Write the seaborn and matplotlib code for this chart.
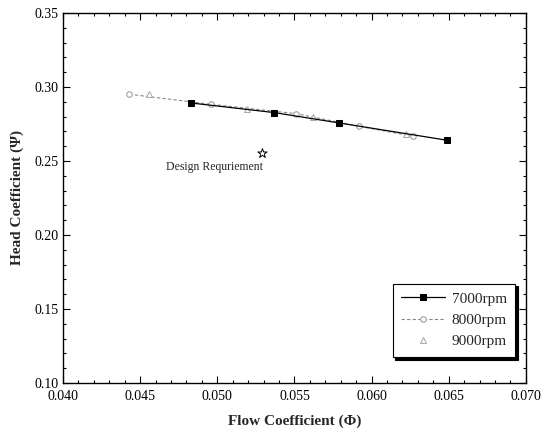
import matplotlib
matplotlib.use("Agg")
import matplotlib.pyplot as plt
import seaborn as sns
import pandas as pd
from matplotlib.ticker import MultipleLocator, FormatStrFormatter

# ---- data ----
phi_7000 = [0.0483, 0.0537, 0.0579, 0.0649]
psi_7000 = [0.2892, 0.2827, 0.2757, 0.2640]

phi_8000 = [0.0443, 0.0496, 0.0551, 0.0592, 0.0627]
psi_8000 = [0.2951, 0.2883, 0.2820, 0.2734, 0.2667]

phi_9000 = [0.0456, 0.0519, 0.0562, 0.0622]
psi_9000 = [0.2955, 0.2850, 0.2800, 0.2680]

design_phi = [0.0529]
design_psi = [0.2554]
design_label = "Design Requriement"

series_labels = ["7000rpm", "8000rpm", "9000rpm"]
x_label = "Flow Coefficient (\u03a6)"
y_label = "Head Coefficient (\u03a8)"

sns.set_theme(style="ticks")
plt.rcParams["font.family"] = ["Liberation Serif", "DejaVu Serif"]

fig = plt.figure(figsize=(5.45, 4.42), dpi=100)
ax = fig.add_axes([0.1156, 0.1335, 0.8494, 0.8371])

df7 = pd.DataFrame({"phi": phi_7000, "psi": psi_7000})
df8 = pd.DataFrame({"phi": phi_8000, "psi": psi_8000})
df9 = pd.DataFrame({"phi": phi_9000, "psi": psi_9000})

sns.lineplot(data=df7, x="phi", y="psi", ax=ax, sort=False, color="black",
             linewidth=0.9, marker="s", markersize=4.5, markeredgecolor="black",
             markerfacecolor="black", label=series_labels[0], zorder=3)
sns.lineplot(data=df8, x="phi", y="psi", ax=ax, sort=False, color="#888888",
             linewidth=0.8, linestyle=(0, (3, 2)), marker="o", markersize=4,
             markerfacecolor="white", markeredgecolor="#999999",
             label=series_labels[1], zorder=2)
sns.lineplot(data=df9, x="phi", y="psi", ax=ax, sort=False, color="#aaaaaa",
             linestyle="", marker="^", markersize=4, markerfacecolor="white",
             markeredgecolor="#aaaaaa", label=series_labels[2], zorder=2)

sns.scatterplot(x=design_phi, y=design_psi, ax=ax, marker="*", s=50,
                facecolor="white", edgecolor="black", linewidth=0.7,
                legend=False, zorder=4)
ax.annotate(design_label, xy=(design_phi[0], design_psi[0]),
            xytext=(1, -6), textcoords="offset points",
            ha="right", va="top", fontsize=8.5)

ax.set_xlim(0.040, 0.070)
ax.set_ylim(0.10, 0.35)
ax.xaxis.set_major_locator(MultipleLocator(0.005))
ax.xaxis.set_minor_locator(MultipleLocator(0.001))
ax.yaxis.set_major_locator(MultipleLocator(0.05))
ax.yaxis.set_minor_locator(MultipleLocator(0.01))
ax.xaxis.set_major_formatter(FormatStrFormatter("%.3f"))
ax.yaxis.set_major_formatter(FormatStrFormatter("%.2f"))

ax.tick_params(which="both", direction="in", top=True, right=True,
               colors="black", labelsize=10, width=0.8)
ax.tick_params(which="major", length=5)
ax.tick_params(which="minor", length=2.5)
ax.tick_params(axis="x", pad=5)
for s in ax.spines.values():
    s.set_visible(True)
    s.set_color("black")
    s.set_linewidth(1.0)

ax.set_xlabel(x_label, fontsize=11, fontweight="bold", labelpad=8)
ax.set_ylabel(y_label, fontsize=11, fontweight="bold", labelpad=7)

leg = ax.legend(loc="lower right", bbox_to_anchor=(0.993, 0.05),
                frameon=True, fancybox=False, framealpha=1,
                edgecolor="black", fontsize=11, handlelength=2.9,
                borderpad=0.55, labelspacing=0.5, handletextpad=0.4,
                shadow={"color": "black", "alpha": 1})
leg.get_frame().set_linewidth(0.8)

fig.savefig("out.png", dpi=100)
